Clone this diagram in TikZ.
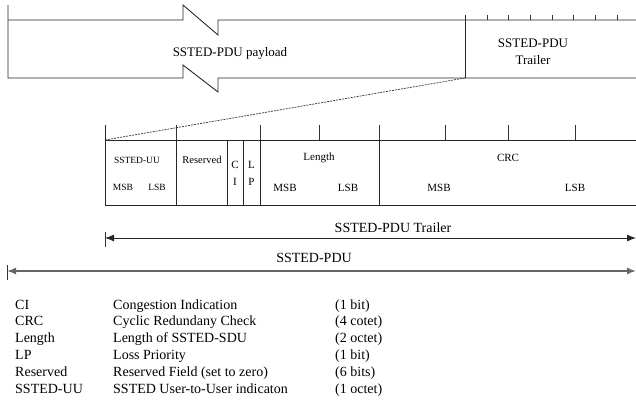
\documentclass[tikz,border=0pt]{standalone}
\usepackage{fontspec}
\setmainfont{Liberation Serif}
\usetikzlibrary{arrows.meta}
\tikzset{
  hdrline/.style={draw=black!85, line width=0.9pt},
  tickline/.style={draw=black!80, line width=0.9pt},
  lbl/.style={inner sep=0pt, font=\fontsize{11}{13}\selectfont},
  smalllbl/.style={inner sep=0pt, font=\fontsize{9.5}{11}\selectfont},
  biglbl/.style={inner sep=0pt, align=center, font=\fontsize{13}{17}\selectfont},
  dimlbl/.style={inner sep=0pt, font=\fontsize{14}{16}\selectfont},
  dimline/.style={{Latex[length=9pt,width=7pt]}-{Latex[length=9pt,width=7pt]},
                  draw=black!85, line width=0.9pt},
  legtext/.style={anchor=base west, inner sep=0pt, font=\fontsize{14}{16}\selectfont},
}

\begin{document}
\begin{tikzpicture}[x=1pt, y=-1pt]
  \useasboundingbox (0,0) rectangle (636,403);

  % header: payload with break marks, then the trailer
  \draw[hdrline] (8,5) -- (8,78) -- (183,78) -- (183,65) -- (218,92) -- (218,78) -- (636,78);
  \draw[hdrline] (8,20) -- (183,20) -- (183,5) -- (218,35) -- (218,20) -- (636,20);
  \draw[hdrline] (465,15) -- (465,78);
  \foreach \x in {487,508,530,552,573,595,617}
    \draw[tickline] (\x,15) -- (\x,20);
  \node[biglbl] (payload) at (230,53) {SSTED-PDU payload};
  \node[biglbl] (trl) at (533,51.5) {SSTED-PDU\\Trailer};
  \coordinate (trlcorner) at (465,78);

  % trailer fields
  \coordinate (boxnw) at (105,140);
  \draw[hdrline] (105,125) -- (105,205) -- (636,205);
  \draw[hdrline] (boxnw) -- (636,140);
  \foreach \x in {176,227,243,260,379}
    \draw[hdrline] (\x,140) -- (\x,205);
  \foreach \x in {176,260,319,379,445,508,575}
    \draw[tickline] (\x,125) -- (\x,140);
  \draw[black!80, dash pattern=on 2pt off 1pt, line width=0.7pt] (trlcorner) -- (boxnw);

  \node[smalllbl] (uu) at (137,160) {SSTED-UU};
  \node[smalllbl] (uumsb) at (123,187) {MSB};
  \node[smalllbl] (uulsb) at (157,187) {LSB};
  \node[lbl, font=\fontsize{10.5}{12}\selectfont] (res) at (202,160) {Reserved};
  \node[lbl, align=center, font=\fontsize{11}{17}\selectfont] (ci) at (235,173.5) {C\\I};
  \node[lbl, align=center, font=\fontsize{11}{17}\selectfont] (lp) at (251.5,173.5) {L\\P};
  \node[lbl] (len) at (319,158) {Length};
  \node[lbl] (lenmsb) at (285,188) {MSB};
  \node[lbl] (lenlsb) at (348,188) {LSB};
  \node[lbl] (crc) at (508,158) {CRC};
  \node[lbl] (crcmsb) at (439,188) {MSB};
  \node[lbl] (crclsb) at (575,188) {LSB};

  % extents
  \coordinate (trlstart) at (105,238);
  \coordinate (trlend) at (636,238);
  \coordinate (pdustart) at (7,271);
  \coordinate (pduend) at (636,271);
  \draw[tickline] (105,232) -- (105,247);
  \draw[tickline] (7,265) -- (7,280);
  \draw[dimline] (trlstart) -- (trlend);
  \draw[dimline, draw=black!60, line width=1.5pt] (pdustart) -- (pduend);
  \node[dimlbl] (trllbl) at (393,228) {SSTED-PDU Trailer};
  \node[dimlbl] (pdulbl) at (314,258) {SSTED-PDU};

  % legend
  \foreach \abbr/\desc/\size [count=\i from 0] in {
      CI/Congestion Indication/(1 bit),
      CRC/Cyclic Redundany Check/(4 cotet),
      Length/Length of SSTED-SDU/(2 octet),
      LP/Loss Priority/(1 bit),
      Reserved/Reserved Field (set to zero)/(6 bits),
      SSTED-UU/SSTED User-to-User indicaton/(1 octet)} {
    \node[legtext] (abbr\i) at (15,309+16.8*\i) {\abbr};
    \node[legtext] (desc\i) at (113,309+16.8*\i) {\desc};
    \node[legtext] (size\i) at (335,309+16.8*\i) {\size};
  }
\end{tikzpicture}
\end{document}
